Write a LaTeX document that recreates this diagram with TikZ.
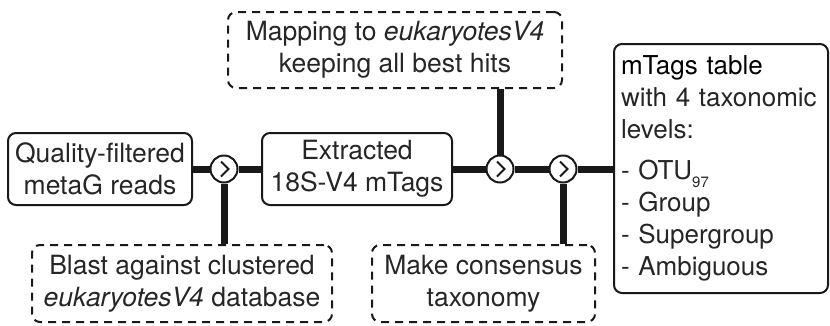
\documentclass[tikz,border=0pt]{standalone}
\usepackage{fontspec}
\setmainfont{TeX Gyre Heros}

\begin{document}
\begin{tikzpicture}[
	x=1pt, y=-1pt,
	font=\fontsize{26.5}{32}\selectfont,
	text=black!85,
	box/.style={
		draw=black!90, line width=2pt,
		rounded corners=8pt,
		align=center,
		inner sep=0pt
	},
	opt/.style={
		box,
		dash pattern=on 8pt off 6pt
	},
	junction/.style={
		circle, draw=black!90, fill=white, line width=2pt,
		minimum size=27pt, inner sep=0pt,
		path picture={\draw[line width=1.8pt]
			([xshift=-3pt,yshift=7.5pt]path picture bounding box.center)
			-- ++(7.5pt,-7.5pt) -- ++(-7.5pt,-7.5pt);}
	},
	link/.style={
		draw=black!90,
		line width=7pt
	}
	]
	
	\useasboundingbox (0,0) rectangle (830,325);
	
	\node [box, minimum width=184pt, minimum height=72pt] (reads) at (100,169) {Quality-filtered\\metaG reads};
	\node [box, minimum width=190pt, minimum height=72pt] (tags) at (357,169) {Extracted\\18S-V4 mTags};
	
	\node [opt, minimum width=334pt, minimum height=76pt] (map) at (395,50) {Mapping to \textit{eukaryotesV4}\\keeping all best hits};
	\node [opt, minimum width=300pt, minimum height=77pt] (blast) at (182,283.5) {Blast against clustered\\\textit{eukaryotesV4} database};
	\node [opt, minimum width=223pt, minimum height=77pt] (cons) at (483.5,283.5) {Make consensus\\taxonomy};
	
	\node [box, align=left, text width=200pt, font=\fontsize{26}{32}\selectfont,
	minimum width=214pt, minimum height=249pt] (table) at (721,168.5) {{\color{black}mTags table}\\
		with 4 taxonomic\\
		levels:\\[9pt]
		- OTU\raisebox{-8pt}{\fontsize{15}{15}\selectfont 97}\\
		- Group\\
		- Supergroup\\
		- Ambiguous};
	
	\node [junction] (c1) at (224,169) {};
	\node [junction] (c2) at (500,169) {};
	\node [junction] (c3) at (563,169) {};
	
	\draw [link] (reads) -- (c1);
	\draw [link] (c1) -- (tags);
	\draw [link] (c1) -- (c1 |- blast.north);
	\draw [link] (tags) -- (c2);
	\draw [link] (c2) -- (c2 |- map.south);
	\draw [link] (c2) -- (c3);
	\draw [link] (c3) -- (c3 |- cons.north);
	\draw [link] (c3) -- (c3 -| table.west);
	
\end{tikzpicture}
\end{document}
